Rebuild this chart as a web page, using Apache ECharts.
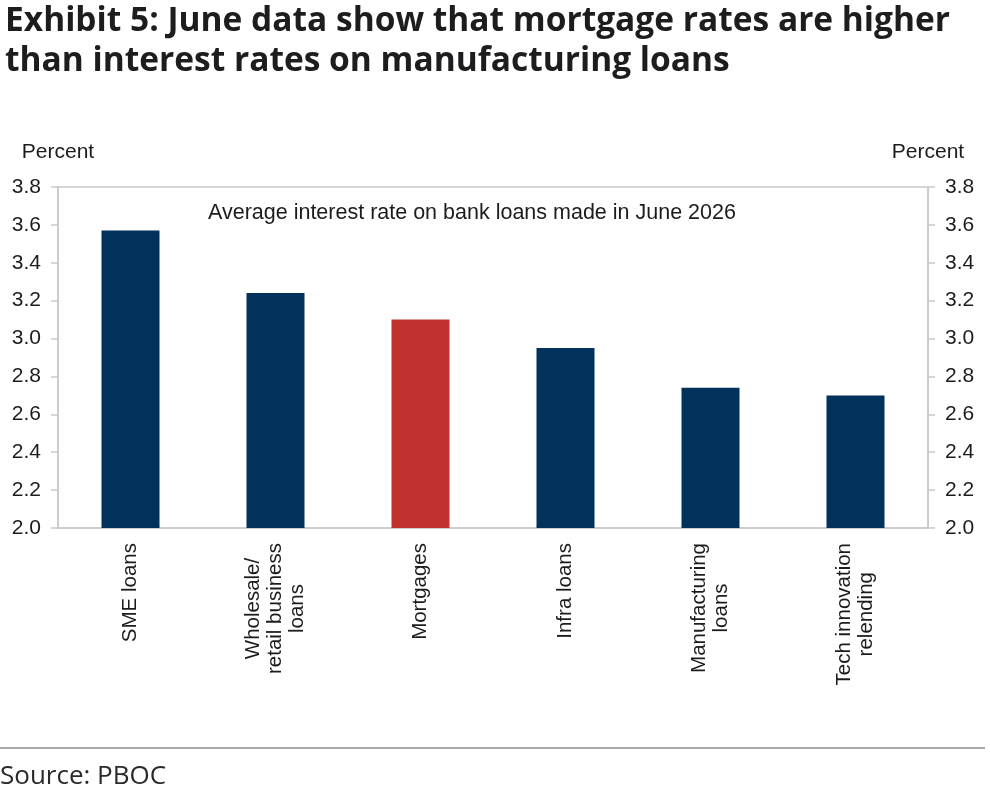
<!DOCTYPE html>
<html>
<head>
<meta charset="utf-8">
<script src="https://cdn.jsdelivr.net/npm/echarts@6/dist/echarts.min.js"></script>
<style>
  html, body { margin: 0; padding: 0; background: #fff; }
  #chart { width: 990px; height: 792px; }
</style>
</head>
<body>
<div id="chart"></div>
<script>
const categories = [
  "SME loans",
  "Wholesale/\nretail business\nloans",
  "Mortgages",
  "Infra loans",
  "Manufacturing\nloans",
  "Tech innovation\nrelending"
];
const rates = [3.57, 3.24, 3.10, 2.95, 2.74, 2.70];
const highlight = "Mortgages";
const yMin = 2.0;
const yMax = 3.8;
const yStep = 0.2;

const NAVY = "#01325c";
const RED = "#c0312f";
const AXIS_GREY = "#c9c9c9";
const TEXT = "#1c1c1c";
const SANS = "Liberation Sans, Arial, sans-serif";

const chart = echarts.init(document.getElementById("chart"), null, { renderer: "canvas" });

// each line of a wrapped label is centred inside its block
const centreLines = (value) => value.split("\n").map((line) => `{c|${line}}`).join("\n");

const valueAxis = (position) => ({
  type: "value",
  position,
  min: yMin,
  max: yMax,
  interval: yStep,
  name: "Percent",
  nameLocation: "end",
  nameGap: 24,
  nameTextStyle: { color: TEXT, fontFamily: SANS, fontSize: 21 },
  axisLine: { show: true, lineStyle: { color: AXIS_GREY, width: 1.5 } },
  axisTick: { show: true, length: 7, lineStyle: { color: AXIS_GREY, width: 1.5 } },
  axisLabel: {
    color: TEXT,
    fontFamily: SANS,
    fontSize: 21,
    margin: 17,
    formatter: (v) => v.toFixed(1)
  },
  splitLine: { show: false }
});

chart.setOption({
  animation: false,
  backgroundColor: "#fff",
  title: {
    text: "Exhibit 5: June data show that mortgage rates are higher\nthan interest rates on manufacturing loans",
    left: 0,
    top: -4,
    textStyle: {
      color: "#1d1d1f",
      fontFamily: "Open Sans, sans-serif",
      fontWeight: 700,
      fontSize: 33.5,
      lineHeight: 40
    }
  },
  grid: {
    left: 58,
    right: 62,
    top: 187,
    bottom: 264,
    show: true,
    borderColor: AXIS_GREY,
    borderWidth: 1.5
  },
  xAxis: {
    type: "category",
    data: categories,
    axisLine: { show: true, lineStyle: { color: AXIS_GREY, width: 1.5 } },
    axisTick: { show: false },
    axisLabel: {
      interval: 0,
      rotate: 90,
      margin: 15,
      color: TEXT,
      fontFamily: SANS,
      fontSize: 20.5,
      lineHeight: 22,
      formatter: centreLines,
      rich: { c: { align: "center", color: TEXT, fontFamily: SANS, fontSize: 20.5, lineHeight: 22 } }
    }
  },
  yAxis: [valueAxis("left"), valueAxis("right")],
  series: [
    {
      type: "bar",
      yAxisIndex: 0,
      barWidth: "40%",
      data: rates.map((v, i) => ({
        value: v,
        itemStyle: { color: categories[i] === highlight ? RED : NAVY }
      }))
    }
  ],
  graphic: [
    {
      type: "text",
      left: 208,
      top: 202,
      style: {
        text: "Average interest rate on bank loans made in June 2026",
        fill: TEXT,
        font: "21.5px Liberation Sans, Arial, sans-serif"
      }
    },
    {
      type: "line",
      shape: { x1: 0, y1: 748, x2: 985, y2: 748 },
      style: { stroke: "#8c8c8c", lineWidth: 1.5 }
    },
    {
      type: "text",
      left: 0,
      top: 764,
      style: {
        text: "Source: PBOC",
        fill: "#2a2a2a",
        font: "26px Open Sans, sans-serif"
      }
    }
  ]
});
</script>
</body>
</html>
